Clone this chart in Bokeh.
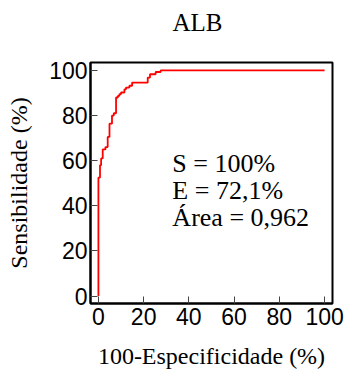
from bokeh.plotting import figure
from bokeh.models import FixedTicker, Range1d, Label, LinearAxis
from bokeh.embed import file_html
from bokeh.resources import INLINE

# ROC points: (100-specificity, sensitivity), in %
fpr = [0, 0, 0.7, 1.2, 1.9, 3.1, 4.1, 4.9, 6.0, 6.8, 7.8, 8.6, 9.3, 10.0, 11.5,
       12.2, 13.7, 14.9, 21.8, 22.8, 25.3, 27.5, 100]
tpr = [0, 52.5, 58, 61, 65, 66, 70.5, 76.4, 80, 81, 88, 88.7, 89.5, 90.2, 91.6,
       92.4, 93.2, 94.6, 96.8, 98.3, 99.3, 100, 100]
x_ticks = [0, 20, 40, 60, 80, 100]
y_ticks = [0, 20, 40, 60, 80, 100]
title_text = "ALB"
x_label = "100-Especificidade (%)"
y_label = "Sensibilidade (%)"
stats = ["S = 100%", "E = 72,1%", "Área = 0,962"]

# staircase path
xs = [fpr[0]]
ys = [tpr[0]]
for i in range(1, len(fpr)):
    xs += [fpr[i], fpr[i]]
    ys += [tpr[i - 1], tpr[i]]

p = figure(width=349, height=376, output_backend="svg", toolbar_location=None,
           x_range=Range1d(-3.5, 103.5), y_range=Range1d(-3.3, 103.5),
           min_border_left=90, min_border_top=62, min_border_right=17,
           min_border_bottom=73)
p.background_fill_color = "white"
p.border_fill_color = "white"
p.grid.visible = False
p.outline_line_color = "black"
p.outline_line_width = 2
p.outline_line_alpha = 1

xax = p.below[0]
yax = p.left[0]

for ax, ticks in ((xax, x_ticks), (yax, y_ticks)):
    ax.ticker = FixedTicker(ticks=ticks)
    ax.minor_tick_line_color = None
    ax.major_tick_in = 7
    ax.major_tick_out = 0
    ax.major_tick_line_color = "#444444"
    ax.major_tick_line_width = 1
    ax.axis_line_color = "black"
    ax.axis_line_width = 2
    ax.major_label_text_font = "Liberation Sans"
    ax.major_label_text_font_size = "23px"
    ax.major_label_text_color = "black"
    ax.axis_label_text_font = "Liberation Serif"
    ax.axis_label_text_font_size = "24px"
    ax.axis_label_text_font_style = "normal"
    ax.axis_label_text_color = "black"

xax.axis_label = x_label
yax.axis_label = y_label
xax.major_label_standoff = 4
xax.axis_label_standoff = 15
yax.major_label_standoff = 3
yax.axis_label_standoff = 14

# invisible spacer axis between the frame and the title
spacer = LinearAxis(ticker=FixedTicker(ticks=[50]), major_tick_out=27,
                    major_tick_in=0, major_tick_line_alpha=0,
                    axis_line_alpha=0, major_label_standoff=0,
                    major_label_text_font_size="1px",
                    major_label_text_alpha=0,
                    major_label_overrides={50: ""},
                    minor_tick_line_alpha=0)
p.add_layout(spacer, "above")

p.title.text = title_text
p.title.text_font = "Liberation Serif"
p.title.text_font_size = "25px"
p.title.text_font_style = "normal"
p.title.text_color = "black"
p.title.align = "left"
p.title.offset = 82
p.title.vertical_align = "bottom"
p.title.standoff = 0

p.line(xs, ys, line_color="#ff0000", line_width=1.8)

for txt, yy in zip(stats, [58.8, 46.9, 35.0]):
    p.add_layout(Label(x=32.7, y=yy, text=txt, text_font="Liberation Serif",
                       text_font_size="26px", text_color="black",
                       text_baseline="alphabetic"))

open("out.html", "w").write(file_html(p, INLINE))
